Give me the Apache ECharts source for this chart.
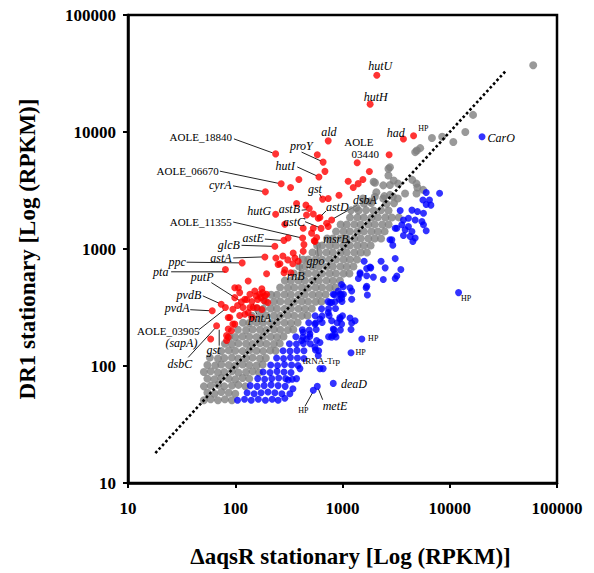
<!DOCTYPE html>
<html>
<head>
<meta charset="utf-8">
<script src="https://cdn.jsdelivr.net/npm/echarts@6/dist/echarts.min.js"></script>
<style>
html,body{margin:0;padding:0;background:#fff;}
#c{width:594px;height:573px;}
</style>
</head>
<body>
<div id="c"></div>
<script>
// ---------------- DATA (RPKM values) ----------------
const tickLabels = ['10', '100', '1000', '10000', '100000'];
const xTitle = 'ΔaqsR stationary [Log (RPKM)]';
const yTitle = 'DR1 stationary [Log (RPKM)]';

// not significantly changed genes (grey)
const gray = [
[51,51],[59,52],[69,51],[80,52],[93,51],
[55,59],[64,58],[74,60],[87,59],[100,58],
[51,67],[59,68],[69,69],[79,67],[93,68],[107,69],[124,67],
[55,78],[64,77],[74,79],[87,78],[100,77],[117,79],[135,78],
[51,89],[59,90],[69,88],[79,89],[93,90],[107,88],[126,89],[145,90],[166,88],
[55,102],[65,101],[74,103],[87,102],[100,101],[117,103],[135,102],[158,101],[180,103],
[58,118],[69,116],[79,117],[93,118],[107,116],[126,117],[145,118],[170,116],[193,117],
[74,134],[87,136],[100,135],[117,134],[135,136],[158,135],[182,134],[212,136],[238,135],
[80,155],[93,154],[107,156],[126,155],[145,154],[170,156],[195,155],[229,154],[260,156],
[88,178],[100,177],[117,179],[135,178],[158,177],[182,179],[214,178],[245,177],[282,179],
[106,204],[126,203],[145,205],[170,204],[195,203],[229,205],[263,204],[309,203],[348,205],
[118,234],[135,233],[158,235],[182,234],[214,233],[245,235],[288,234],[331,233],[382,235],
[143,269],[170,268],[195,270],[229,269],[263,268],[309,270],[355,269],[417,268],[472,270],
[160,309],[182,308],[214,310],[245,309],[288,308],[331,310],[389,309],[447,308],[518,310],
[193,355],[229,354],[263,356],[309,355],[355,354],[417,356],[479,355],[562,354],[636,356],
[216,407],[245,406],[288,408],[331,407],[389,406],[447,408],[525,407],[603,406],[696,408],
[262,468],[309,467],[355,469],[417,468],[479,467],[562,469],[646,468],[759,467],[860,469],
[290,537],[331,536],[389,538],[447,537],[525,536],[603,538],[708,537],[813,536],[945,538],
[352,617],[417,616],[479,618],[562,617],[646,616],[759,618],[871,617],[1023,616],[1160,618],
[395,708],[447,707],[525,709],[603,708],[708,707],[813,709],[955,708],[1096,707],[1265,709],
[430,813],[479,812],[562,814],[646,813],[759,812],[871,814],[1023,813],[1175,812],[1365,814],
[525,933],[603,932],[708,934],[813,933],[955,932],[1096,934],[1288,933],[1479,932],[1690,934],
[580,1072],[646,1071],[759,1073],[871,1072],[1023,1071],[1175,1073],[1380,1072],[1585,1071],[1830,1073],
[720,1230],[813,1229],[955,1231],[1096,1230],[1288,1229],[1479,1231],[1738,1230],[1995,1229],[2290,1231],
[871,1412],[1023,1414],[1175,1413],[1380,1412],[1585,1414],[1862,1413],[2138,1412],[2470,1414],
[960,1622],[1096,1621],[1288,1623],[1479,1622],[1738,1621],[1995,1623],[2344,1622],[2692,1621],
[1175,1861],[1380,1863],[1585,1862],[1862,1861],[2138,1863],[2512,1862],[2884,1861],[3350,1863],
[1202,2140],[1413,2130],[1660,2150],[1950,2135],[2290,2145],[2690,2130],
[1585,2450],[1862,2470],[2570,2440],[3020,2460],
[2000,2800],[2455,2830],[2950,2810],
[2070,3060],[1800,2550],[1550,2700],[1350,2250],[2400,2700],[2770,2900],[3280,2700],[3830,2980],
[4900,2980],[5000,3350],[5650,3200],[4900,3620],[4470,3900],[3300,3620],[2770,3520],[2400,3500],
[1950,3750],[2010,3680],[3000,3850],[2680,4250],[2680,4850],[2770,5000],[4760,6730],[4930,6950],
[5300,7280],[6820,8900],[8500,9100],[10800,8220],[13970,10000],[16500,14000],[60000,37200]
];

// up-regulated in DR1 (red)
const red = [
[2090,30600],[1810,17300],[3700,8700],[4600,9300],[1370,5460],[2720,6400],[1780,4600],[1130,3790],
[1260,3350],[1400,3620],[1550,3920],[238,6500],[736,8400],[582,6380],[660,5530],[686,4610],[603,4130],
[268,3610],[328,3350],[392,3920],[191,3080],[653,2670],[736,2700],[927,2880],[238,1980],[290,1630],
[456,2370],[490,2220],[534,1990],[616,1860],[373,2450],[462,1950],[594,1830],[711,1660],[736,1556],
[792,1770],[534,1506],[574,1256],[553,1160],[430,1506],[425,1240],[437,1090],[360,839],[347,925],
[386,787],[430,955],[515,1366],[545,1175],[631,1500],[284,1185],[311,1240],[234,1054],[239,839],
[278,871],[309,807],[344,747],[261,747],[290,664],[330,626],[189,855],[116,761],[81,668],
[114,353],[99,467],[110,424],[137,410],[152,437],[169,410],[189,398],[128,370],[143,356],[162,370],
[185,362],[159,316],[137,316],[123,277],[143,260],[74,337],[81,316],[61,297],[95,306],[89,260],
[99,228],[92,200],[86,176],[83,165],[67,221],[59,170],[177,458],[201,349],[177,304],[110,270],
[105,329],[196,614],[251,736],[285,626],[132,532],[180,424],[107,467],[99,384],[123,372],[157,397],
[174,384],[196,410],[147,316],[132,287],[118,316],[86,260],[95,228],[86,207],[83,182]
];

// down-regulated in DR1 (blue)
const blue = [
[105,51],[122,52],[141,51],[164,52],[191,51],[221,52],[251,51],
[129,59],[150,58],[174,59],[202,60],[234,59],[272,58],
[138,68],[160,67],[186,68],[216,69],[251,68],[292,67],
[162,78],[188,77],[219,78],[254,79],[295,78],[340,77],
[182,89],[211,88],[245,90],[285,89],[331,88],
[214,102],[248,101],[288,103],[335,102],[385,101],
[243,117],[282,116],[327,118],[380,117],[437,116],
[279,135],[324,134],[376,136],[437,135],
[320,155],[372,154],[432,156],[501,155],
[367,178],[427,177],[495,179],[741,178],[871,177],
[422,204],[490,203],[569,205],[832,204],[955,203],
[484,234],[562,233],[646,235],[891,234],
[556,269],[646,268],[750,270],[1000,269],
[638,309],[741,308],[861,310],
[733,355],[851,354],[989,356],
[841,407],[977,406],
[600,135],[616,95],[660,95],[820,71],[582,67],[534,62],[574,165],[616,159],[560,137],[809,182],
[820,207],[462,170],[401,95],[373,78],[312,76],[345,64],[323,58],[290,53],[914,438],[792,349],
[736,287],[616,252],[553,228],[792,244],[947,252],[982,228],[851,188],[792,176],[497,188],[430,194],
[416,165],[553,145],[594,123],
[6030,3040],[8040,3000],[5620,2620],[6470,2620],[6670,2370],[6030,2400],[4440,2150],[5000,2090],
[5690,2020],[4120,1830],[3700,1770],[4760,1770],[5500,1720],[3570,1610],[4120,1556],[5690,1610],
[3210,1506],[3840,1460],[4440,1413],[6030,1430],[3700,1306],[4275,1282],[4760,1240],[4530,1160],
[2885,1200],[2945,1075],[3100,828],[2290,787],[1590,787],[1680,681],[1835,690],[2500,690],
[3500,668],[3210,588],[3100,560],[2400,549],[1940,575],[1406,560],[1458,626],[1016,476],
[1175,467],[1218,438],[1660,467],[1706,405],[947,410],[982,380],[1218,372],[947,260],
[1175,257],[1309,244],[1218,233],[1200,205],[1514,170],[1200,130],[12080,424],[20000,9120],
[3450,2130],[3100,1506],[2770,1200],[1680,480],[980,497],[1020,410],[935,372],[820,410],
[764,349],[1807,700],[1458,610],[1680,590]
];

// y = x reference line
const diagonal = [[18,18],[33000,33000]];

// annotated genes: name and the data point it refers to
const labelNames = ['AOLE_18840','proY','hutI','AOLE_06670','cyrA','ald','AOLE','03440','hutU','hutH',
 'had','HP','CarO','gst','dsbA','astD','astB','hutG','astC','AOLE_11355','astE','glcB','astA','ppc',
 'pta','putP','pvdB','pvdA','AOLE_03905','(sapA)','dsbC','gst','pntA','tRNA-Trp','HP','HP','deaD',
 'metE','HP','HP','msrB','gpo','rnB'];
const labelPoints = [[238,6500],[660,5530],[603,4130],[268,3610],[191,3080],[736,8400],[1370,5460],[1370,5460],
 [2090,30600],[1810,17300],[3700,8700],[4600,9300],[20000,9120],[653,2670],[792,1770],[594,1830],[490,2220],
 [238,1980],[631,1500],[425,1240],[284,1185],[234,1054],[189,855],[116,761],[81,668],[114,353],[74,337],
 [61,297],[81,316],[81,316],[67,221],[67,221],[143,356],[616,95],[1514,170],[1200,130],[820,71],[582,67],
 [534,62],[12080,424],[574,1256],[553,1160],[430,955]];

// ---------------- LAYOUT of the annotations (pixel offsets from the point) ----------------
// [dx, dy, align, kind(0 upright,1 italic,2 small,3 tiny-upright), leader line [x1,y1,x2,y2] or null]
const labelLayout = [
 [-43.7,-17,'right',0,[-41.7,-15,-3,-1]],
 [-21.8,-15.8,'center',1,[-21.6,-10,-2,-1]],
 [-33.7,-11.3,'center',1,[-21.7,-10,-2,-1]],
 [-62.3,-12.3,'right',0,[-61.3,-12.6,-3,-0.5]],
 [-33.7,-7.3,'right',1,[-32.4,-6,-3,-0.5]],
 [0.7,-9,'center',1,null],
 [1.7,-20.5,'center',0,null],
 [8.2,-9,'center',0,null],
 [3.3,-9.5,'center',1,null],
 [5.5,-7.5,'center',1,null],
 [-7.8,-6.5,'center',1,null],
 [9.7,-7.2,'center',2,null],
 [5.5,1,'left',1,null],
 [-7.7,-9.7,'center',1,[-3,-5,-1,-1]],
 [33.3,-19.7,'center',1,[25.3,-14.7,2,-1.5]],
 [7.7,-11,'left',1,[7.7,-7.3,2,-1.5]],
 [-9.3,1,'right',1,[-7.6,1.7,-2.5,1.2]],
 [-4.5,-3.5,'right',1,null],
 [-16,-6,'right',1,[-16,-6.7,-2,-1]],
 [-71,-16,'right',0,[-69.4,-16,-2.5,-0.5]],
 [-20,-2.3,'right',1,[-19,-1.3,-3,0]],
 [-35,-1,'right',1,[-33.3,-1,-3,0]],
 [-33.3,1,'right',1,[-31.7,1,-3,0]],
 [-56.3,-1,'right',1,[-55.6,-0.7,-3,0]],
 [-57,2.3,'right',1,[-54.3,2.3,0,2.3]],
 [-39.2,-24.8,'center',1,[-30,-19.3,-2,-1.5]],
 [-20,-9.2,'right',1,[-18.4,-8.4,-2,-1]],
 [-22.7,-2.3,'right',1,[-22,-1,-3,0]],
 [-26,23.5,'right',0,[-26.7,22.3,-1.5,2.5]],
 [-28,35.5,'right',1,null],
 [-36.7,38.5,'center',1,[-28.4,31.7,-1.5,2.5]],
 [-3.2,24.2,'center',1,[2.6,20,2.6,4]],
 [8,16.5,'center',1,[4.7,12.7,1.3,2]],
 [1.5,-7.7,'center',3,null],
 [6.3,-0.7,'left',2,null],
 [4.5,0,'left',2,null],
 [7.7,0.3,'left',1,null],
 [5.4,19.7,'left',1,[5.4,13.4,1,2.4]],
 [-10,20.7,'center',2,[-8.3,16,-0.5,2]],
 [2.4,5.5,'left',2,null],
 [6.6,1.7,'left',1,null],
 [0.5,20,'center',1,[3.3,15,2,3]],
 [-7.5,24.7,'center',1,[-3.3,20,-3.3,3]]
];

const SERIF = '"Liberation Serif", "Times New Roman", serif';
const chart = echarts.init(document.getElementById('c'), null, {renderer: 'svg'});

function tickFmt(v) {
  const i = Math.round(Math.log10(v)) - 1;
  return tickLabels[i] !== undefined ? tickLabels[i] : '';
}

const axisCommon = {
  type: 'log', logBase: 10, min: 10, max: 100000,
  nameLocation: 'middle',
  axisLine: {show: true, lineStyle: {color: '#000', width: 2.5}},
  axisTick: {show: true, inside: false, length: 5, lineStyle: {color: '#000', width: 2}},
  minorTick: {show: false},
  splitLine: {show: false},
  axisLabel: {color: '#000', fontFamily: SERIF, fontWeight: 'bold', fontSize: 17, formatter: tickFmt,
              showMinLabel: true, showMaxLabel: true}
};

const option = {
  animation: false,
  backgroundColor: '#fff',
  grid: {left: 128, right: 37, top: 15, bottom: 86, show: true, borderColor: '#000', borderWidth: 2.5,
         backgroundColor: 'transparent'},
  xAxis: Object.assign({}, axisCommon, {name: xTitle, nameGap: 62,
         nameTextStyle: {fontFamily: SERIF, fontWeight: 'bold', fontSize: 23, color: '#000', padding: [0, 0, 0, 16]},
         axisLabel: Object.assign({}, axisCommon.axisLabel, {margin: 17})}),
  yAxis: Object.assign({}, axisCommon, {name: yTitle, nameGap: 89,
         nameTextStyle: {fontFamily: SERIF, fontWeight: 'bold', fontSize: 23, color: '#000'},
         axisLabel: Object.assign({}, axisCommon.axisLabel, {margin: 12})}),
  series: [
    {type: 'scatter', data: gray, symbolSize: 8, itemStyle: {color: '#808080'}, silent: true, z: 2},
    {type: 'scatter', data: red, symbolSize: 7, itemStyle: {color: '#ff0000'}, silent: true, z: 3},
    {type: 'scatter', data: blue, symbolSize: 7, itemStyle: {color: '#0000ff'}, silent: true, z: 3},
    {type: 'line', data: diagonal, symbol: 'none', silent: true, z: 4,
     lineStyle: {color: '#000', width: 2.6, type: [2.6, 2.4], cap: 'butt'}}
  ]
};
chart.setOption(option);

// annotations placed via the chart's own coordinate conversion
const fonts = [
  '11px ' + SERIF,
  'italic 12px ' + SERIF,
  '8px ' + SERIF,
  '9px ' + SERIF
];
const els = [];
labelNames.forEach(function (name, i) {
  const p = chart.convertToPixel({gridIndex: 0}, labelPoints[i]);
  const L = labelLayout[i];
  if (L[4]) {
    els.push({type: 'line', z: 1, silent: true,
      shape: {x1: p[0] + L[4][0], y1: p[1] + L[4][1], x2: p[0] + L[4][2], y2: p[1] + L[4][3]},
      style: {stroke: '#222', lineWidth: 1}});
  }
  els.push({type: 'text', z: 100, silent: true,
    style: {text: name, x: p[0] + L[0], y: p[1] + L[1], font: fonts[L[3]], fill: '#000',
            align: L[2], verticalAlign: 'middle', textAlign: L[2], textVerticalAlign: 'middle'}});
});
chart.setOption({graphic: {elements: els}});
</script>
</body>
</html>
